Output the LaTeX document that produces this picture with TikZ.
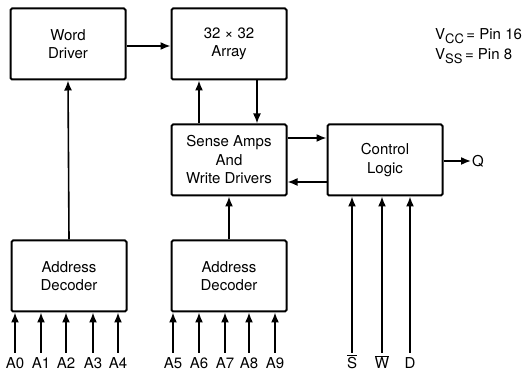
\documentclass[tikz,border=0pt]{standalone}
\usepackage{fontspec}
\setmainfont{TeX Gyre Heros}
\usepackage{tikz}
\usetikzlibrary{positioning, arrows.meta}

\newcommand{\barsig}[1]{\ensuremath{\overline{\mbox{#1}}}}
\newcommand{\subsig}[1]{\raisebox{-4pt}{\fontsize{13}{14}\selectfont #1}}

\begin{document}
\begin{tikzpicture}[x=1pt, y=1pt, node distance=43pt,
  >={Latex[length=10pt,width=8pt]},
  box/.style={draw, line width=2pt, rounded corners=1.5pt, minimum width=115pt, minimum height=71pt, align=center, font=\fontsize{15}{18.5}\selectfont},
  pin/.style={inner xsep=0pt, inner ysep=5pt, text height=10.5pt, text depth=0pt, font=\fontsize{15}{16}\selectfont},
  wire/.style={->, line width=1.6pt}]
  \useasboundingbox (0,0) rectangle (528,371);
  \node[box] (wd) at (68,327) {Word\\Driver};
  \node[box, right=44pt of wd] (arr) {32 × 32\\Array};
  \node[box, below=of arr] (sense) {Sense Amps\\And\\Write Drivers};
  \node[box, right=39pt of sense] (ctrl) {Control\\Logic};
  \node[box, below=of sense] (dec2) {Address\\Decoder};
  \node[box, left=of dec2] (dec1) {Address\\Decoder};
  \node[anchor=west, align=left, font=\fontsize{15}{20}\selectfont, inner sep=1pt] (pwr) at (434,325) {V\subsig{CC}\,= Pin 16\\V\subsig{SS}\,= Pin 8};
  \node[anchor=west, font=\fontsize{15}{16}\selectfont, inner sep=1pt] (q) at (471,210) {Q};

  % address and control inputs
  \foreach \n/\x in {0/15, 1/41, 2/66, 3/93, 4/118}
    \node[pin] (a\n) at (\x,8) {A\n};
  \foreach \n/\x in {5/173, 6/199, 7/225, 8/249, 9/275}
    \node[pin] (a\n) at (\x,8) {A\n};
  \node[pin] (s) at (352,8) {\barsig{S}};
  \node[pin] (w) at (382,8) {\barsig{W}};
  \node[pin] (d) at (410,8) {D};
  \foreach \n in {0,...,4}
    \draw[wire] (a\n.north) -- (a\n.north |- dec1.south);
  \foreach \n in {5,...,9}
    \draw[wire] (a\n.north) -- (a\n.north |- dec2.south);
  \foreach \n in {s,w,d}
    \draw[wire] (\n.north) -- (\n.north |- ctrl.south);

  \draw[wire] (wd.east |- 0,325) -- (arr.west |- 0,325);
  \draw[wire] (dec1.north) -- (wd.south);
  \draw[wire] (dec2.north) -- (sense.south);
  \draw[wire] ([xshift=-30pt]sense.north) -- ([xshift=-30pt]sense.north |- arr.south);
  \draw[wire] ([xshift=28pt]arr.south) -- ([xshift=28pt]arr.south |- sense.north);
  \draw[wire] ([yshift=22pt]sense.east) -- ([yshift=22pt]sense.east -| ctrl.west);
  \draw[wire] ([yshift=-22pt]ctrl.west) -- ([yshift=-22pt]ctrl.west -| sense.east);
  \draw[wire] (ctrl.east |- q) -- (q.west);
\end{tikzpicture}
\end{document}
